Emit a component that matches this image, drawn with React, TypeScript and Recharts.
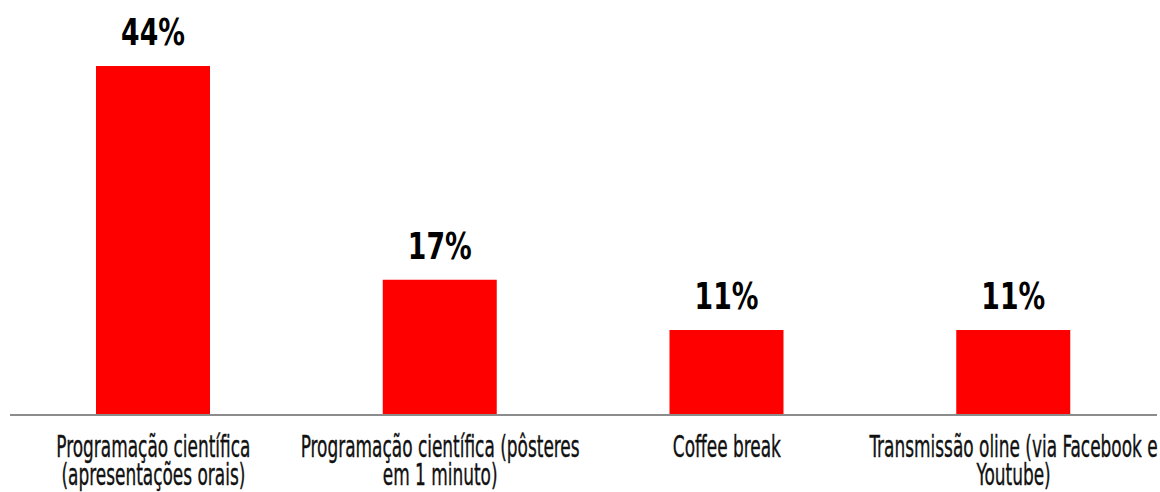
import { BarChart, Bar, XAxis, YAxis, LabelList } from "recharts";

const categories = [
  "Programação científica\n(apresentações orais)",
  "Programação científica (pôsteres\nem 1 minuto)",
  "Coffee break",
  "Transmissão oline (via Facebook e\nYoutube)",
];
const shares = [44.4, 17.2, 10.8, 10.8];
const shareLabels = ["44%", "17%", "11%", "11%"];

const FONT = '"DejaVu Sans Condensed", "Liberation Sans Narrow", sans-serif';

const data = categories.map((name, i) => ({ name, value: shares[i], label: shareLabels[i] }));

// the original font is tall and very narrow, so squeeze the condensed font sideways
const TICK_SX = 0.785;
const TICK_SY = 1.26;

function CategoryTick({ x, y, payload }: any) {
  const lines = String(payload.value).split("\n");
  return (
    <g transform={`translate(${x},${y})`}>
      {lines.map((line, i) => (
        <text
          key={i}
          transform={`translate(0,${42 + i * 28}) scale(${TICK_SX},${TICK_SY})`}
          textAnchor="middle"
          fontFamily={FONT}
          fontSize={24}
          fill="#111"
          stroke="#111"
          strokeWidth={0.3}
        >
          {line}
        </text>
      ))}
    </g>
  );
}

function ValueLabel({ x, y, width, value }: any) {
  const cx = Number(x) + Number(width) / 2;
  const by = Number(y) - 21;
  return (
    <text
      transform={`translate(${cx},${by}) scale(0.78,1)`}
      textAnchor="middle"
      fontFamily={FONT}
      fontSize={38}
      fontWeight="bold"
      fill="#000"
    >
      {value}
    </text>
  );
}

export default function App() {
  return (
    <div style={{ position: "fixed", left: 0, top: 0, width: 1160, height: 492, background: "#fff" }}>
      <BarChart width={1160} height={492} data={data} margin={{ top: 22, right: 3, left: 10, bottom: 0 }}>
        <XAxis
          dataKey="name"
          height={77}
          tick={<CategoryTick />}
          tickLine={false}
          tickSize={0}
          tickMargin={0}
          interval={0}
          axisLine={{ stroke: "#8c8c8c", strokeWidth: 2 }}
        />
        <YAxis hide domain={[0, 50]} />
        <Bar dataKey="value" fill="#ff0000" barSize={114} isAnimationActive={false}>
          <LabelList dataKey="label" content={<ValueLabel />} />
        </Bar>
      </BarChart>
    </div>
  );
}
